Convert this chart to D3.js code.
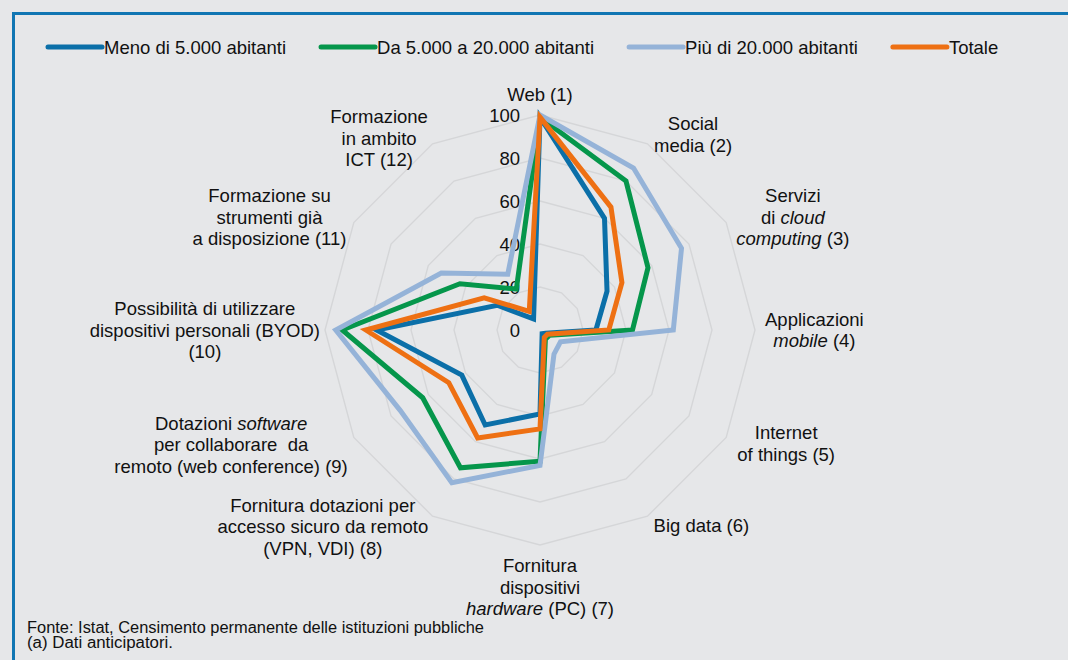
<!DOCTYPE html>
<html>
<head>
<meta charset="utf-8">
<script src="https://cdn.jsdelivr.net/npm/d3@7"></script>
<style>
  html, body { margin: 0; padding: 0; background: #e6e7e9; }
  svg { display: block; font-family: "Liberation Sans", Arial, sans-serif; }
  text { white-space: pre; }
</style>
</head>
<body>
<svg width="1068" height="660"></svg>
<script>
// categories (line breaks as in the chart, *text* = italic)
const categories = [
  ["Web (1)"],
  ["Social", "media (2)"],
  ["Servizi", "di *cloud*", "*computing* (3)"],
  ["Applicazioni", "*mobile* (4)"],
  ["Internet", "of things (5)"],
  ["Big data (6)"],
  ["Fornitura", "dispositivi", "*hardware* (PC) (7)"],
  ["Fornitura dotazioni per", "accesso sicuro da remoto", "(VPN, VDI) (8)"],
  ["Dotazioni *software*", "per collaborare  da", "remoto (web conference) (9)"],
  ["Possibilità di utilizzare", "dispositivi personali (BYOD)", "(10)"],
  ["Formazione su", "strumenti già", "a disposizione (11)"],
  ["Formazione", "in ambito", "ICT (12)"]
];

const seriesNames = ["Meno di 5.000 abitanti", "Da 5.000 a 20.000 abitanti", "Più di 20.000 abitanti", "Totale"];

// percent values
const meno   = [99, 60, 36, 26, 3, 2, 39, 51, 42, 76, 23, 6];
const da     = [99, 80, 58, 43, 5, 5, 61, 74, 63, 92, 43, 22];
const piu    = [100, 87, 76, 62, 11, 13, 63, 82, 75, 95, 53, 30];
const totale = [99, 66, 44, 32, 4, 4, 46, 58, 49, 81, 30, 10];

const ticks = [0, 20, 40, 60, 80, 100];

const colors = ["#0b6fa8", "#05964b", "#95b3d8", "#ee7013"];

const source = [
  "Fonte: Istat, Censimento permanente delle istituzioni pubbliche",
  "(a) Dati anticipatori."
];

// ---- layout
const cx = 540, cy = 330;
const svg = d3.select("svg");

svg.append("rect").attr("width", 1068).attr("height", 660).attr("fill", "#e6e7e9");

// frame: top and left rules
svg.append("path")
  .attr("d", "M13.5,660 V13.5 H1068")
  .attr("fill", "none")
  .attr("stroke", "#1176b3")
  .attr("stroke-width", 3);

const r = d3.scaleLinear().domain([0, 100]).range([0, 215]);
const angle = d3.scaleLinear().domain([0, categories.length]).range([0, 2 * Math.PI]);

const chart = svg.append("g").attr("transform", `translate(${cx},${cy})`);

// grid rings
const ring = d3.lineRadial()
  .angle((d, i) => angle(i))
  .radius(d => r(d))
  .curve(d3.curveLinearClosed);

chart.append("g")
  .selectAll("path")
  .data(ticks.filter(t => t > 0))
  .join("path")
  .attr("d", t => ring(categories.map(() => t)))
  .attr("fill", "none")
  .attr("stroke", "#d5d6d8")
  .attr("stroke-width", 1.4);

// tick labels
chart.append("g")
  .selectAll("text")
  .data(ticks)
  .join("text")
  .attr("x", -20)
  .attr("y", t => -r(t) + 6.5)
  .attr("text-anchor", "end")
  .attr("font-size", 18.5)
  .attr("fill", "#111")
  .text(t => t);

// series
const series = [meno, da, piu, totale];
const line = d3.lineRadial()
  .angle((d, i) => angle(i))
  .radius(d => r(d))
  .curve(d3.curveLinearClosed);

chart.append("g")
  .selectAll("path")
  .data(series)
  .join("path")
  .attr("d", d => line(d))
  .attr("fill", "none")
  .attr("stroke", (d, i) => colors[i])
  .attr("stroke-width", 5)
  .attr("stroke-linejoin", "miter");

// category labels
const lineH = 21.5;
const labelR = 225;
// Excel places some labels a little off the plain polar position
const nudge = [[0, 0], [21, 18], [9, 16], [0, 0], [9, -10], [25, -9],
               [0, 0], [-52, -26], [-13, -14], [5, 0], [-9, 16], [-24, 31]];

categories.forEach((lines, i) => {
  const g = chart.append("g");
  const t = g.append("text")
    .attr("text-anchor", "middle")
    .attr("font-size", 18.5)
    .attr("fill", "#111");
  lines.forEach((ln, j) => {
    const tl = t.append("tspan").attr("x", 0).attr("y", j * lineH);
    ln.split("*").forEach((part, k) => {
      if (!part) return;
      tl.append("tspan")
        .attr("font-style", k % 2 ? "italic" : "normal")
        .text(part);
    });
  });
  const bb = t.node().getBBox();
  const w = bb.width, h = lines.length * lineH;
  const a = angle(i);
  const px = Math.sin(a) * labelR + Math.sin(a) * w / 2 + nudge[i][0];
  const py = -Math.cos(a) * labelR - Math.cos(a) * h / 2 + nudge[i][1];
  // first baseline: block top + half line + ~6.5 for cap centring
  g.attr("transform", `translate(${px},${py - h / 2 + lineH / 2 + 6.5})`);
});

// legend
const legend = svg.append("g").attr("transform", "translate(46,47)");
let lx = 0;
seriesNames.forEach((name, i) => {
  const item = legend.append("g").attr("transform", `translate(${lx},0)`);
  item.append("line")
    .attr("x1", 2).attr("x2", 56)
    .attr("stroke", colors[i])
    .attr("stroke-width", 5)
    .attr("stroke-linecap", "round");
  const txt = item.append("text")
    .attr("x", 58)
    .attr("y", 6.5)
    .attr("font-size", 18.5)
    .attr("fill", "#111")
    .text(name);
  lx += 58 + txt.node().getComputedTextLength() + 33;
});

// source note (condensed)
const noteWidths = [457, 146];
svg.append("g")
  .selectAll("text")
  .data(source)
  .join("text")
  .attr("x", 27)
  .attr("y", (d, i) => 633 + i * 15)
  .attr("font-size", 16)
  .attr("fill", "#111")
  .attr("textLength", (d, i) => noteWidths[i])
  .attr("lengthAdjust", "spacingAndGlyphs")
  .text(d => d);
</script>
</body>
</html>
